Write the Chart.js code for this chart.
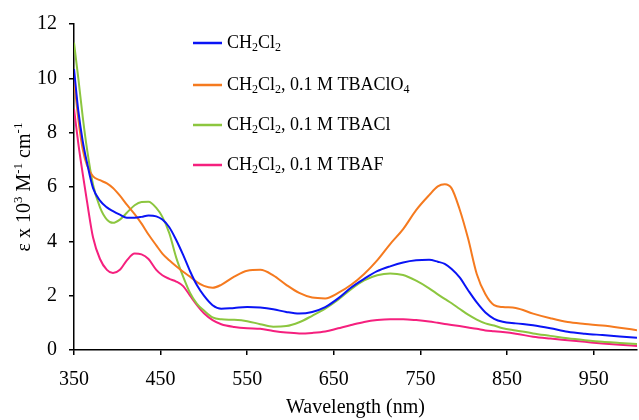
<!DOCTYPE html>
<html>
<head>
<meta charset="utf-8">
<script src="https://cdn.jsdelivr.net/npm/chart.js@4.4.1/dist/chart.umd.min.js"></script>
<style>
  body { margin: 0; background: #fff; }
  #wrap { width: 639px; height: 420px; }
</style>
</head>
<body>
<div id="wrap"><canvas id="spectra" width="639" height="420"></canvas></div>
<script>
// Wavelength grid (nm) shared by all four spectra
const wavelengths = [350, 355, 360, 365, 372, 380, 388, 395, 403, 411, 420, 428, 436, 445, 452, 460, 468, 476, 484, 492,
  500, 510, 520, 535, 550, 565, 580, 595, 610, 625, 640, 655, 670, 685, 700, 715, 730, 745, 760, 770,
  778, 786, 795, 805, 815, 825, 835, 845, 860, 880, 900, 920, 940, 960, 980, 1000];

// epsilon x 10^3 M-1 cm-1
const ch2cl2 = [10.34, 8.8, 7.7, 6.9, 5.96, 5.5, 5.25, 5.11, 4.98, 4.87, 4.87, 4.9, 4.95, 4.92, 4.8, 4.52, 4.05, 3.5, 2.9, 2.38,
  2.0, 1.65, 1.52, 1.55, 1.58, 1.56, 1.5, 1.4, 1.34, 1.4, 1.58, 1.9, 2.3, 2.62, 2.9, 3.08, 3.22, 3.3, 3.32, 3.25,
  3.17, 2.98, 2.68, 2.2, 1.75, 1.38, 1.15, 1.04, 0.98, 0.91, 0.8, 0.67, 0.6, 0.55, 0.5, 0.45];
const tbaclo4 = [9.98, 8.5, 7.4, 6.8, 6.39, 6.25, 6.13, 5.96, 5.68, 5.35, 5.0, 4.65, 4.25, 3.85, 3.55, 3.3, 3.08, 2.88, 2.7, 2.5,
  2.36, 2.29, 2.4, 2.7, 2.92, 2.95, 2.75, 2.4, 2.1, 1.93, 1.9, 2.1, 2.4, 2.8, 3.3, 3.9, 4.45, 5.15, 5.7, 6.02,
  6.1, 5.95, 5.2, 4.1, 2.8, 2.05, 1.65, 1.58, 1.55, 1.34, 1.17, 1.03, 0.96, 0.9, 0.82, 0.73];
const tbacl = [11.31, 10.0, 8.6, 7.4, 6.08, 5.25, 4.8, 4.68, 4.8, 5.05, 5.33, 5.45, 5.46, 5.23, 4.9, 4.3, 3.4, 2.7, 2.1, 1.7,
  1.45, 1.2, 1.13, 1.11, 1.06, 0.95, 0.86, 0.88, 1.02, 1.26, 1.52, 1.85, 2.24, 2.56, 2.75, 2.82, 2.76, 2.55, 2.27, 2.05,
  1.88, 1.72, 1.52, 1.3, 1.12, 0.98, 0.9, 0.8, 0.72, 0.61, 0.52, 0.43, 0.36, 0.3, 0.26, 0.22];
const tbaf = [8.88, 7.6, 6.5, 5.47, 4.14, 3.35, 2.95, 2.83, 2.95, 3.3, 3.55, 3.52, 3.35, 2.95, 2.75, 2.62, 2.52, 2.35, 2.0, 1.65,
  1.35, 1.1, 0.95, 0.85, 0.8, 0.78, 0.7, 0.64, 0.61, 0.63, 0.68, 0.8, 0.92, 1.03, 1.1, 1.13, 1.13, 1.1, 1.05, 1.0,
  0.96, 0.92, 0.88, 0.83, 0.78, 0.72, 0.69, 0.66, 0.6, 0.49, 0.42, 0.36, 0.3, 0.24, 0.19, 0.15];

const seriesLabels = ['CH₂Cl₂', 'CH₂Cl₂, 0.1 M TBAClO₄', 'CH₂Cl₂, 0.1 M TBACl', 'CH₂Cl₂, 0.1 M TBAF'];
const seriesColors = ['#0a14f5', '#f57a1f', '#8cc63f', '#f5207e'];
const xTicks = [350, 450, 550, 650, 750, 850, 950];
const xTitle = 'Wavelength (nm)';
const yTitle = 'ε x 10³ M⁻¹ cm⁻¹';

const FONT = '"Liberation Serif", "Times New Roman", serif';

// sub/superscript characters are drawn as small raised/lowered digits
const subChars = { '₂': '2', '₄': '4' };
const supChars = { '³': '3', '⁻': '-', '¹': '1' };

function splitRuns(text) {
  const runs = [];
  for (const ch of text) {
    let kind = 'n', c = ch;
    if (subChars[ch]) { kind = 'sub'; c = subChars[ch]; }
    else if (supChars[ch]) { kind = 'sup'; c = supChars[ch]; }
    const last = runs[runs.length - 1];
    if (last && last.kind === kind) last.text += c;
    else runs.push({ kind: kind, text: c });
  }
  return runs;
}

function richWidth(ctx, text, size) {
  let w = 0;
  splitRuns(text).forEach(r => {
    ctx.font = (r.kind === 'n' ? size : Math.round(size * 0.65)) + 'px ' + FONT;
    w += ctx.measureText(r.text).width;
  });
  return w;
}

function drawRich(ctx, text, x, y, size) {
  let cx = x;
  splitRuns(text).forEach(r => {
    let dy = 0;
    if (r.kind === 'n') ctx.font = size + 'px ' + FONT;
    else {
      ctx.font = Math.round(size * 0.65) + 'px ' + FONT;
      dy = r.kind === 'sub' ? size * 0.28 : -size * 0.32;
    }
    ctx.fillText(r.text, cx, y + dy);
    cx += ctx.measureText(r.text).width;
  });
}

// legend inside the plot and the two axis titles
const annotations = {
  id: 'annotations',
  afterDraw(chart) {
    const ctx = chart.ctx;
    const area = chart.chartArea;
    ctx.save();
    ctx.fillStyle = '#000';
    ctx.textBaseline = 'middle';
    ctx.textAlign = 'left';

    const rows = [43, 85, 125, 165];
    chart.data.datasets.forEach((ds, i) => {
      ctx.strokeStyle = ds.borderColor;
      ctx.lineWidth = 2.5;
      ctx.beginPath();
      ctx.moveTo(193, rows[i]);
      ctx.lineTo(222, rows[i]);
      ctx.stroke();
      ctx.fillStyle = '#000';
      drawRich(ctx, ds.label, 227, rows[i], 18);
    });

    // x title
    const xw = richWidth(ctx, xTitle, 20);
    drawRich(ctx, xTitle, (area.left + area.right) / 2 - xw / 2, 408, 20);

    // y title, rotated
    const yw = richWidth(ctx, yTitle, 20);
    ctx.translate(25, (area.top + area.bottom) / 2);
    ctx.rotate(-Math.PI / 2);
    drawRich(ctx, yTitle, -yw / 2, 0, 20);
    ctx.restore();
  }
};

const datasets = [ch2cl2, tbaclo4, tbacl, tbaf].map((vals, i) => ({
  label: seriesLabels[i],
  data: wavelengths.map((w, j) => ({ x: w, y: vals[j] })),
  borderColor: seriesColors[i],
  backgroundColor: seriesColors[i],
  borderWidth: 2,
  pointRadius: 0,
  cubicInterpolationMode: 'monotone',
  fill: false
}));

const axisTicks = { color: '#000', font: { family: FONT, size: 20 } };

new Chart(document.getElementById('spectra'), {
  type: 'line',
  data: { datasets: datasets },
  plugins: [annotations],
  options: {
    responsive: false,
    animation: false,
    layout: { padding: { left: 0, right: 2, top: 21, bottom: 0 } },
    plugins: { legend: { display: false }, tooltip: { enabled: false } },
    scales: {
      x: {
        type: 'linear',
        min: 350,
        max: 1000,
        afterBuildTicks: s => { s.ticks = xTicks.map(v => ({ value: v })); },
        afterFit: s => { s.height = 70; },
        ticks: Object.assign({ padding: 13, maxRotation: 0 }, axisTicks),
        grid: { drawOnChartArea: false, drawTicks: true, tickLength: 5, color: '#000', lineWidth: 1.5 },
        border: { color: '#000', width: 1.5 }
      },
      y: {
        min: 0,
        max: 12,
        ticks: Object.assign({ stepSize: 2, padding: 12 }, axisTicks),
        afterFit: s => { s.width = 74; },
        grid: { drawOnChartArea: false, drawTicks: true, tickLength: 5, color: '#000', lineWidth: 1.5 },
        border: { color: '#000', width: 1.5 }
      }
    }
  }
});
</script>
</body>
</html>
